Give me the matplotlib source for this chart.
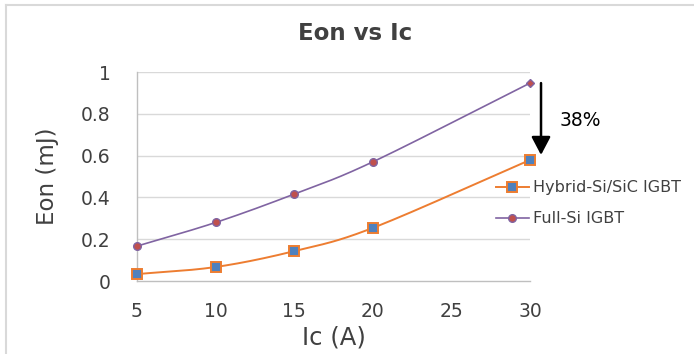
import numpy as np
import matplotlib
matplotlib.use("Agg")
import matplotlib.pyplot as plt
from matplotlib.lines import Line2D

ic = [5, 10, 15, 20, 30]
eon_hybrid = [0.033, 0.067, 0.143, 0.254, 0.579]
eon_full_si = [0.167, 0.28, 0.416, 0.57, 0.947]
x_ticks = [5, 10, 15, 20, 25, 30]
y_ticks = [0, 0.2, 0.4, 0.6, 0.8, 1]
reduction_label = "38%"


def smooth(x, y, n=40):
    """Catmull-Rom style smoothing through the points (like a spreadsheet smoothed line)."""
    x = np.asarray(x, float)
    y = np.asarray(y, float)
    px = np.concatenate([[2 * x[0] - x[1]], x, [2 * x[-1] - x[-2]]])
    py = np.concatenate([[2 * y[0] - y[1]], y, [2 * y[-1] - y[-2]]])
    xs, ys = [], []
    t = np.linspace(0, 1, n)
    for i in range(1, len(px) - 2):
        p0, p1, p2, p3 = (np.array([px[j], py[j]]) for j in range(i - 1, i + 3))
        c1 = p1 + (p2 - p0) / 6
        c2 = p2 - (p3 - p1) / 6
        seg = ((1 - t) ** 3)[:, None] * p1 + (3 * (1 - t) ** 2 * t)[:, None] * c1 \
            + (3 * (1 - t) * t ** 2)[:, None] * c2 + (t ** 3)[:, None] * p2
        xs.append(seg[:, 0])
        ys.append(seg[:, 1])
    return np.concatenate(xs), np.concatenate(ys)


plt.rcParams["font.family"] = ["DejaVu Sans"]

fig = plt.figure(figsize=(6.94, 3.54), dpi=100)
# chart frame edges (left and top)
fig.lines.append(Line2D([0.009, 0.009], [0.0, 0.986], transform=fig.transFigure,
                        color="#d9d9d9", linewidth=1.5))
fig.lines.append(Line2D([0.009, 1.0], [0.986, 0.986], transform=fig.transFigure,
                        color="#d9d9d9", linewidth=1.5))

ax = fig.add_axes([0.1974, 0.2062, 0.5663, 0.5904])
text_col = "#404040"
orange = "#ED7D31"
blue = "#4F81BD"
purple = "#8064A2"
red = "#C0504D"

for v in y_ticks[1:]:
    ax.axhline(v, color="#d9d9d9", linewidth=1, zorder=0)

sx, sy = smooth(ic, eon_hybrid)
ax.plot(sx, sy, color=orange, linewidth=1.4, zorder=2)
ax.plot(ic, eon_hybrid, linestyle="none", marker="s", markersize=7,
        markerfacecolor=blue, markeredgecolor=orange, markeredgewidth=1.4,
        zorder=3, clip_on=False)
ax.plot([], [], color=orange, linewidth=1.4, marker="s", markersize=7,
        markerfacecolor=blue, markeredgecolor=orange, markeredgewidth=1.4,
        label="Hybrid-Si/SiC IGBT")

sx, sy = smooth(ic, eon_full_si)
ax.plot(sx, sy, color=purple, linewidth=1.2, zorder=2)
ax.plot(ic[:-1], eon_full_si[:-1], linestyle="none", marker="o", markersize=5.5,
        markerfacecolor=red, markeredgecolor=purple, markeredgewidth=1,
        zorder=3, clip_on=False)
ax.plot(ic[-1:], eon_full_si[-1:], linestyle="none", marker="D", markersize=4.5,
        markerfacecolor=red, markeredgecolor=purple, markeredgewidth=1,
        zorder=3, clip_on=False)
ax.plot([], [], color=purple, linewidth=1.2, marker="o", markersize=5.5,
        markerfacecolor=red, markeredgecolor=purple, markeredgewidth=1,
        label="Full-Si IGBT")

ax.set_xlim(5, 30)
ax.set_ylim(0, 1)
ax.set_xticks(x_ticks)
ax.set_yticks(y_ticks)
ax.set_yticklabels([f"{v:g}" for v in y_ticks])
ax.tick_params(length=0, labelsize=13.5, labelcolor=text_col)
ax.tick_params(axis="y", pad=19)
ax.tick_params(axis="x", pad=15)

for s in ["top", "right"]:
    ax.spines[s].set_visible(False)
for s in ["left", "bottom"]:
    ax.spines[s].set_color("#bfbfbf")
    ax.spines[s].set_linewidth(1)

ax.set_xlabel("Ic (A)", fontsize=17.5, color=text_col, labelpad=3)
ax.set_ylabel("Eon (mJ)", fontsize=16.5, color=text_col, labelpad=16)
fig.text(0.512, 0.904, "Eon vs Ic", ha="center", va="center", fontsize=16.5,
         fontweight="bold", color=text_col)

# reduction arrow between the two curves at the highest current
ax.annotate("", xy=(30.7, 0.603), xytext=(30.7, 0.947),
            xycoords="data", textcoords="data", annotation_clip=False,
            arrowprops=dict(arrowstyle="-|>,head_width=0.58,head_length=1.1",
                            color="black", linewidth=1.8, shrinkA=0, shrinkB=0))
ax.text(31.9, 0.766, reduction_label, fontsize=13.5, color="black",
        va="center", ha="left", clip_on=False)

leg = ax.legend(loc="upper left", bbox_to_anchor=(0.896, 0.512), frameon=False,
                fontsize=11.5, handlelength=2.1, labelspacing=1.0, handletextpad=0.25,
                borderaxespad=0)
for t in leg.get_texts():
    t.set_color(text_col)

fig.savefig("out.png", dpi=100)
